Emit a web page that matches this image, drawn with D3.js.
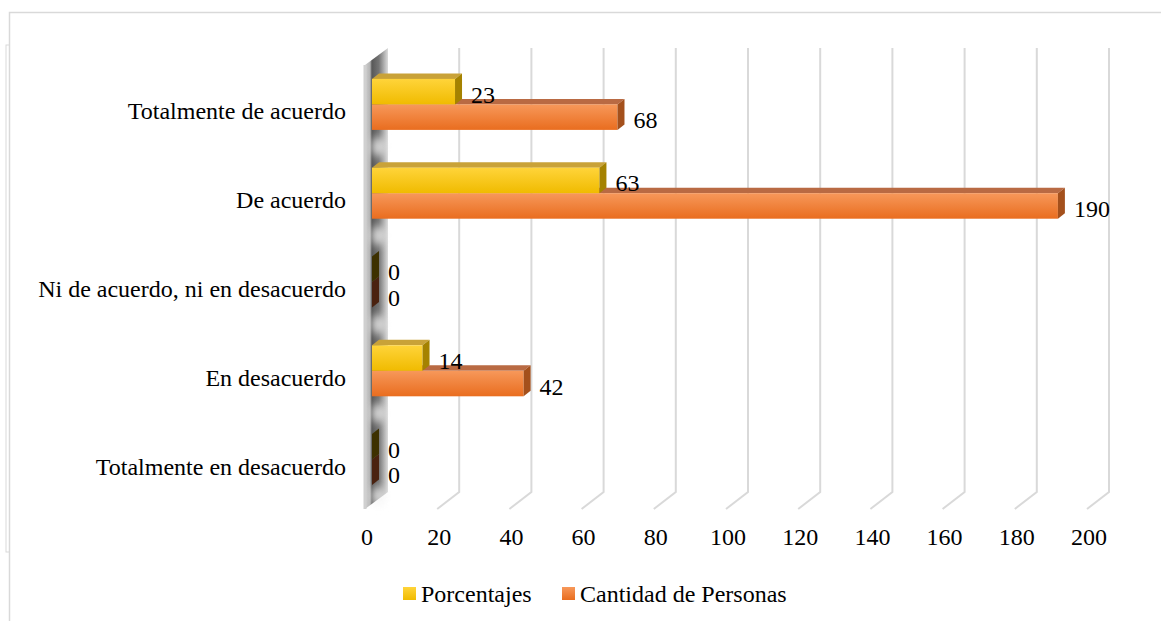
<!DOCTYPE html>
<html>
<head>
<meta charset="utf-8">
<script src="https://cdn.jsdelivr.net/npm/d3@7"></script>
<style>
  body { margin: 0; background: #fff; }
</style>
</head>
<body>
<div id="chart"></div>
<script>
"use strict";

const categories = ["Totalmente de acuerdo", "De acuerdo", "Ni de acuerdo, ni en desacuerdo", "En desacuerdo", "Totalmente en desacuerdo"];
const seriesNames = ["Porcentajes", "Cantidad de Personas"];
const porcentajes = [23, 63, 0, 14, 0];
const cantidad = [68, 190, 0, 42, 0];
const xTicks = [0, 20, 40, 60, 80, 100, 120, 140, 160, 180, 200];

const W = 1161, H = 621;
const fontSize = 24;
const serif = "'Liberation Serif', 'Times New Roman', serif";

// 3d look: bar depth offset and back wall offset
const barDx = 7, barDy = -5.5;
const backDx = 15, backTop = 48, backBottom = 492;
const floorDx = -7, floorY = 509;

const svg = d3.select("#chart").append("svg").attr("width", W).attr("height", H)
  .attr("font-family", serif).attr("font-size", fontSize);
const defs = svg.append("defs");

const x = d3.scaleLinear().domain([0, 200]).range([372, 1094]);
const y = d3.scaleBand().domain(categories).range([60, 504]);
const sub = d3.scaleBand().domain(seriesNames).range([0, 51]);

const colors = {
  "Porcentajes": {top: "#ffd43a", bottom: "#f0bb00", lid: "#c9a238", side: "#a58200", zero: "#3d3000"},
  "Cantidad de Personas": {top: "#f7985a", bottom: "#e96d1f", lid: "#b96a43", side: "#a4501c", zero: "#4a2210"}
};

seriesNames.forEach(function(s, k) {
  const g = defs.append("linearGradient").attr("id", "front" + k).attr("x1", "0%").attr("y1", "0%").attr("x2", "0%").attr("y2", "100%");
  g.append("stop").attr("offset", "0%").attr("stop-color", colors[s].top);
  g.append("stop").attr("offset", "100%").attr("stop-color", colors[s].bottom);
});

// wall gradient
const wg = defs.append("linearGradient").attr("id", "wallGrad").attr("x1", "0%").attr("y1", "0%").attr("x2", "100%").attr("y2", "0%");
wg.append("stop").attr("offset", "0%").attr("stop-color", "#d0d0d0");
wg.append("stop").attr("offset", "22%").attr("stop-color", "#b4b4b4");
wg.append("stop").attr("offset", "30%").attr("stop-color", "#585858");
wg.append("stop").attr("offset", "60%").attr("stop-color", "#747474");
wg.append("stop").attr("offset", "100%").attr("stop-color", "#dcdcdc");
defs.append("filter").attr("id", "blur").attr("x", "-50%").attr("y", "-50%").attr("width", "200%").attr("height", "200%")
  .append("feGaussianBlur").attr("stdDeviation", 4);

// outer frame
svg.append("path").attr("d", "M9.5,621 L9.5,12.5 L1161,12.5").attr("fill", "none").attr("stroke", "#d9d9d9").attr("stroke-width", 1.5);
svg.append("rect").attr("x", 6).attr("y", 45).attr("width", 3.5).attr("height", 507).attr("fill", "none").attr("stroke", "#d9d9d9").attr("stroke-width", 1);

// gridlines on back wall and floor
svg.append("g").selectAll("path").data(xTicks.slice(1)).enter().append("path")
  .attr("d", function(d) {
    return "M" + (x(d) + backDx) + "," + backTop + "L" + (x(d) + backDx) + "," + backBottom + "L" + (x(d) + floorDx) + "," + floorY;
  })
  .attr("fill", "none").attr("stroke", "#d9d9d9").attr("stroke-width", 2);

// left side wall
const wx0 = x(0) + floorDx, wx1 = x(0) + backDx + 1;
const wall = svg.append("g");
wall.append("path").attr("d", "M" + wx0 + "," + (floorY - backBottom + backTop) + "L" + wx1 + "," + backTop + "L" + wx1 + "," + backBottom + "L" + wx0 + "," + floorY + "Z")
  .attr("fill", "url(#wallGrad)");
// lighter spots between the bar groups
wall.selectAll("ellipse").data(categories.slice(1).concat(["end"])).enter().append("ellipse")
  .attr("cx", (wx0 + wx1) / 2 + 2)
  .attr("cy", function(d, i) { return i < categories.length - 1 ? y(d) - 2 : y(categories[categories.length - 1]) + y.bandwidth() - 8; })
  .attr("rx", 7).attr("ry", 10)
  .attr("fill", "#f4f4f4").attr("opacity", 0.8).attr("filter", "url(#blur)");
wall.append("path").attr("d", "M" + wx0 + "," + (floorY - backBottom + backTop) + "L" + wx0 + "," + floorY)
  .attr("stroke", "#d0d0d0").attr("stroke-width", 3);

// bars, orange first so the yellow front face covers its lid
const bars = svg.append("g");
categories.forEach(function(c, i) {
  const vals = [porcentajes[i], cantidad[i]];
  [1, 0].forEach(function(k) {
    const s = seriesNames[k];
    const v = vals[k];
    const y0 = y(c) + (y.bandwidth() - sub.range()[1]) / 2 + sub(s);
    const y1 = y0 + sub.bandwidth();
    const x0 = x(0), x1 = x(v);
    const g = bars.append("g");
    if (v > 0) {
      g.append("path").attr("d", "M" + x0 + "," + y0 + "L" + (x0 + barDx) + "," + (y0 + barDy) + "L" + (x1 + barDx) + "," + (y0 + barDy) + "L" + x1 + "," + y0 + "Z")
        .attr("fill", colors[s].lid);
      g.append("rect").attr("x", x0).attr("y", y0).attr("width", x1 - x0).attr("height", y1 - y0).attr("fill", "url(#front" + k + ")");
    }
    g.append("path").attr("d", "M" + x1 + "," + y0 + "L" + (x1 + barDx) + "," + (y0 + barDy) + "L" + (x1 + barDx) + "," + (y1 + barDy) + "L" + x1 + "," + y1 + "Z")
      .attr("fill", v > 0 ? colors[s].side : colors[s].zero);
  });
});

// value labels
categories.forEach(function(c, i) {
  const vals = [porcentajes[i], cantidad[i]];
  seriesNames.forEach(function(s, k) {
    const y0 = y(c) + (y.bandwidth() - sub.range()[1]) / 2 + sub(s);
    svg.append("text").attr("x", x(vals[k]) + 16).attr("y", y0 + sub.bandwidth() / 2 + 3)
      .attr("dominant-baseline", "central").attr("fill", "#000").text(vals[k]);
  });
});

// category labels
svg.append("g").selectAll("text").data(categories).enter().append("text")
  .attr("x", 346).attr("y", function(d) { return y(d) + y.bandwidth() / 2 + 7; })
  .attr("text-anchor", "end").attr("dominant-baseline", "central").attr("fill", "#000")
  .text(function(d) { return d; });

// x axis labels
const axis = d3.axisBottom(x).tickValues(xTicks).tickSize(0).tickPadding(0);
const ax = svg.append("g").attr("transform", "translate(-5.5,528)").call(axis);
ax.select(".domain").remove();
ax.attr("font-family", serif).attr("font-size", fontSize);
ax.selectAll("text").attr("fill", "#000");

// legend
const legend = svg.append("g");
const legX = [403, 562];
seriesNames.forEach(function(s, k) {
  legend.append("rect").attr("x", legX[k]).attr("y", 587).attr("width", 13).attr("height", 13).attr("fill", "url(#front" + k + ")");
  legend.append("text").attr("x", legX[k] + 18).attr("y", 593.5).attr("dominant-baseline", "central").attr("fill", "#000").text(s);
});
</script>
</body>
</html>
